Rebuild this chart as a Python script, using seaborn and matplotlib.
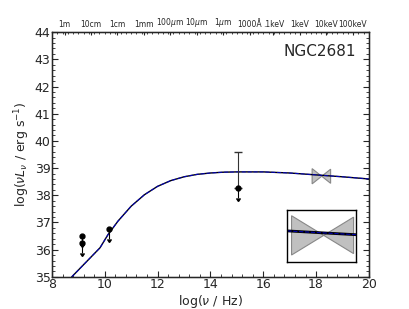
import numpy as np
import seaborn as sns
import matplotlib
matplotlib.use('Agg')
import matplotlib.pyplot as plt
from matplotlib.ticker import MultipleLocator

# model SED (log nu, log nuLnu)
model_x = [8.75, 9.2, 9.5, 9.82, 10.12, 10.5, 11.0, 11.5, 12.0, 12.5, 13.0,
           13.5, 14.0, 14.5, 15.0, 16.0, 17.0, 18.0, 19.0, 20.0]
model_y = [35.0, 35.45, 35.75, 36.07, 36.55, 37.05, 37.6, 38.02, 38.33, 38.54,
           38.68, 38.77, 38.82, 38.85, 38.86, 38.86, 38.82, 38.75, 38.68, 38.6]

# photometric upper limits
lim_x = [9.13, 9.13, 10.16]
lim_y = [36.52, 36.24, 36.75]
lim_len = [0.3, 0.35, 0.35]

# detection with error bar + limit
det_x = [15.06]
det_y = [38.27]
det_lo = [0.37]
det_hi = [1.33]

# X-ray bowtie
bow_x = [17.85, 18.55, 18.55, 17.85]
bow_y = [38.98, 38.44, 38.96, 38.42]

top_labels = ['1m', '10cm', '1cm', '1mm', '100$\\mu$m', '10$\\mu$m', '1$\\mu$m',
              '1000\u00c5', '.1keV', '1keV', '10keV', '100keV']
top_pos = [8.48, 9.48, 10.48, 11.48, 12.48, 13.48, 14.48, 15.48,
           16.38, 17.38, 18.38, 19.38]

sns.set_style('ticks')
plt.rcParams['font.family'] = ['DejaVu Sans']
plt.rcParams['mathtext.fontset'] = 'dejavusans'

fig = plt.figure(figsize=(4.09, 3.09), dpi=100)
ax = fig.add_axes([0.127, 0.104, 0.775, 0.792])

ax.fill(bow_x, bow_y, facecolor='#c0c0c0', edgecolor='#888888', lw=0.8)
sns.lineplot(x=model_x, y=model_y, ax=ax, color='black', lw=1.0, sort=False)
sns.lineplot(x=model_x, y=model_y, ax=ax, color='blue', lw=0.8, sort=False,
             linestyle='--', alpha=0.7)

ax.errorbar(lim_x, lim_y, yerr=[lim_len, np.zeros(3)], uplims=True, fmt='o',
            color='black', ms=3.5, elinewidth=0.8, capsize=1.5)
# upper part of the error bar with a cap
ax.errorbar(det_x, det_y, yerr=[np.zeros(1), det_hi], fmt='none',
            ecolor='#333333', elinewidth=0.8, capsize=3)
# lower part as an upper-limit arrow
ax.errorbar(det_x, det_y, yerr=[det_lo, np.zeros(1)], uplims=True, fmt='o',
            color='black', ms=3.5, elinewidth=0.8, capsize=1.5)

ax.set_xlim(8, 20)
ax.set_ylim(35, 44)
ax.xaxis.set_major_locator(MultipleLocator(2))
ax.xaxis.set_minor_locator(MultipleLocator(0.4))
ax.yaxis.set_major_locator(MultipleLocator(1))
ax.yaxis.set_minor_locator(MultipleLocator(0.2))
ax.tick_params(which='both', direction='in', right=True, top=False, labelsize=9, pad=1)
ax.tick_params(which='major', length=4)
ax.tick_params(which='minor', length=2)
ax.set_xlabel('log($\\nu$ / Hz)', fontsize=9, labelpad=1)
ax.set_ylabel('log($\\nu L_\\nu$ / erg s$^{-1}$)', fontsize=9, labelpad=2)
for s in ax.spines.values():
    s.set_linewidth(1.0)
    s.set_color('black')

ax.text(0.96, 0.92, 'NGC2681', transform=ax.transAxes, ha='right', va='center',
        fontsize=11)

top = ax.twiny()
top.set_xlim(8, 20)
top.set_xticks(top_pos)
top.set_xticklabels(top_labels, fontsize=5.5)
top.xaxis.set_minor_locator(MultipleLocator(0.2))
top.tick_params(which='major', direction='in', length=2, pad=2)
top.tick_params(which='minor', direction='in', length=1.5)

# inset zoom of X-ray bowtie
ins = fig.add_axes([0.702, 0.152, 0.169, 0.168])
ins.fill(bow_x, bow_y, facecolor='#c0c0c0', edgecolor='#888888', lw=0.8)
sns.lineplot(x=model_x, y=model_y, ax=ins, color='black', lw=2.0, sort=False)
sns.lineplot(x=model_x, y=model_y, ax=ins, color='blue', lw=0.8, sort=False,
             linestyle='--', alpha=0.7)
ins.set_xlim(17.8, 18.58)
ins.set_ylim(38.32, 39.06)
ins.set_xticks([])
ins.set_yticks([])
for s in ins.spines.values():
    s.set_linewidth(1.0)
    s.set_color('black')

fig.savefig('out.png', dpi=100)
